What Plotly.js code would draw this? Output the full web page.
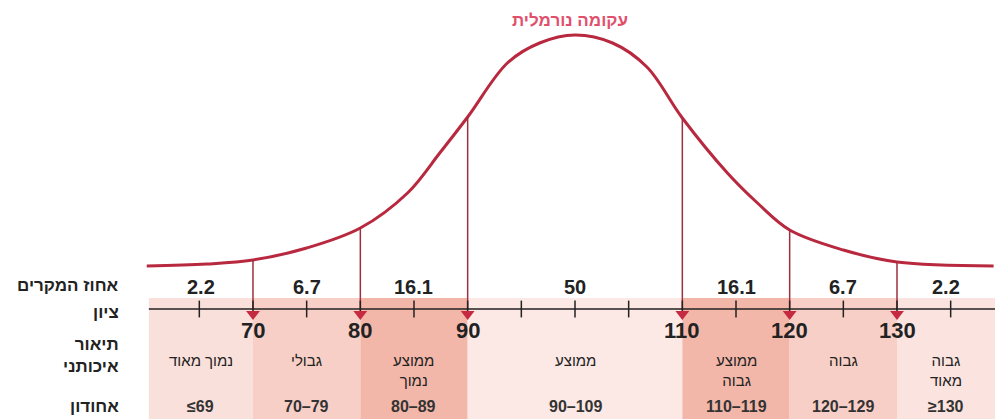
<!DOCTYPE html>
<html>
<head>
<meta charset="utf-8">
<script src="https://cdn.plot.ly/plotly-3.0.1.min.js"></script>
<style>html,body{margin:0;padding:0;background:#fff;}#chart{width:995px;height:419px;}</style>
</head>
<body>
<div id="chart"></div>
<script>
// ---- data ----
const curveScore  = [60.1, 65.7, 70, 75, 80, 84.4, 87.4, 90, 93.7, 96.7, 100, 103.5, 106.7, 110, 114.2, 117, 120, 125, 130, 139];
const curveHeight = [43, 45, 49, 61, 81, 116, 156, 192, 246, 266, 274, 266, 242, 191, 136, 106, 79, 59, 47, 43];
const scoreCuts   = [70, 80, 90, 110, 120, 130];
const bandEdges   = [60.3, 70, 80, 90, 110, 120, 130, 139.13];
const percentages = ["2.2", "6.7", "16.1", "50", "16.1", "6.7", "2.2"];
const descriptions = ["נמוך מאוד", "גבולי", "ממוצע<br>נמוך", "ממוצע", "ממוצע<br>גבוה", "גבוה", "גבוה<br>מאוד"];
const ranges      = ["≤69", "70–79", "80–89", "90–109", "110–119", "120–129", "≥130"];
const tickScores  = [65, 70, 75, 80, 85, 90, 95, 100, 105, 110, 115, 120, 125, 130, 135];
const rowHeaders  = ["אחוז המקרים", "ציון", "תיאור<br>איכותני", "אחודון"];
const curveTitle  = "עקומה נורמלית";

// ---- styles ----
const bandColors = ["#fae0da", "#f8cfc6", "#f3b7aa", "#fce8e4", "#f3b7aa", "#f8cfc6", "#fbe4df"];
const FONT = "Liberation Sans, Arial, DejaVu Sans, sans-serif";
const curveColor = "#b8283e";

// helper: height of curve at a read score
function heightAt(s) {
  for (let i = 0; i < curveScore.length - 1; i++) {
    if (s >= curveScore[i] && s <= curveScore[i + 1]) {
      const t = (s - curveScore[i]) / (curveScore[i + 1] - curveScore[i]);
      return curveHeight[i] + t * (curveHeight[i + 1] - curveHeight[i]);
    }
  }
  return 0;
}

const centers = [];
for (let i = 0; i < bandEdges.length - 1; i++) centers.push((bandEdges[i] + bandEdges[i + 1]) / 2);

const traces = [];
// curve
traces.push({
  x: curveScore, y: curveHeight, type: "scatter", mode: "lines",
  line: { color: curveColor, width: 3, shape: "spline", smoothing: 1 },
  hoverinfo: "skip"
});
// vertical drop lines
const vx = [], vy = [];
scoreCuts.forEach(c => { vx.push(c, c, null); vy.push(heightAt(c), -1, null); });
traces.push({
  x: vx, y: vy, type: "scatter", mode: "lines",
  line: { color: "#9e2f40", width: 1.5 }, hoverinfo: "skip"
});
// axis ticks
traces.push({
  x: tickScores, y: tickScores.map(() => 0), type: "scatter", mode: "markers",
  marker: { symbol: "line-ns-open", size: 12, color: "#222", line: { color: "#222", width: 1.5 } },
  hoverinfo: "skip"
});
// arrow heads
traces.push({
  x: scoreCuts, y: scoreCuts.map(() => -5), type: "scatter", mode: "markers",
  marker: { symbol: "triangle-down", size: 12, color: "#c62a40" },
  hoverinfo: "skip"
});

const shapes = [];
for (let i = 0; i < bandEdges.length - 1; i++) {
  shapes.push({
    type: "rect", xref: "x", yref: "y", layer: "below",
    x0: bandEdges[i], x1: bandEdges[i + 1], y0: -112, y1: 11,
    fillcolor: bandColors[i], line: { width: 0 }
  });
}
shapes.push({
  type: "line", xref: "x", yref: "y", layer: "above",
  x0: bandEdges[0], x1: bandEdges[bandEdges.length - 1], y0: 0, y1: 0,
  line: { color: "#222", width: 1.5 }
});

const annotations = [];
percentages.forEach((p, i) => annotations.push({
  x: centers[i], y: 22, xref: "x", yref: "y", text: "<b>" + p + "</b>", showarrow: false,
  font: { family: FONT, size: 20, color: "#222" }
}));
scoreCuts.forEach(c => annotations.push({
  x: c, y: -21, xref: "x", yref: "y", text: "<b>" + c + "</b>", showarrow: false,
  font: { family: FONT, size: 22, color: "#222" }
}));
descriptions.forEach((d, i) => annotations.push({
  x: centers[i], y: -41, xref: "x", yref: "y", yanchor: "top", text: d, showarrow: false,
  font: { family: FONT, size: 15, color: "#222" }
}));
ranges.forEach((r, i) => annotations.push({
  x: centers[i], y: -97, xref: "x", yref: "y", text: "<b>" + r + "</b>", showarrow: false,
  font: { family: FONT, size: 16, color: "#333" }
}));
const headerY = [24, -3, -46, -97];
rowHeaders.forEach((h, i) => annotations.push({
  x: 121 / 995, xref: "paper", xanchor: "right", y: headerY[i], yref: "y",
  text: "<b>" + h + "</b>", showarrow: false, align: "right",
  font: { family: FONT, size: 17, color: "#222" }
}));
annotations.push({
  x: 99.5, y: 289, xref: "x", yref: "y", text: "<b>" + curveTitle + "</b>", showarrow: false,
  font: { family: FONT, size: 17, color: "#e0506c" }
});

const layout = {
  width: 995, height: 419,
  margin: { l: 0, r: 0, t: 0, b: 0 },
  paper_bgcolor: "#fff", plot_bgcolor: "#fff",
  showlegend: false,
  xaxis: { range: [46.43, 139.13], visible: false, fixedrange: true },
  yaxis: { range: [-110, 309], visible: false, fixedrange: true },
  shapes: shapes,
  annotations: annotations
};

Plotly.newPlot("chart", traces, layout, { displayModeBar: false, staticPlot: true });
</script>
</body>
</html>
